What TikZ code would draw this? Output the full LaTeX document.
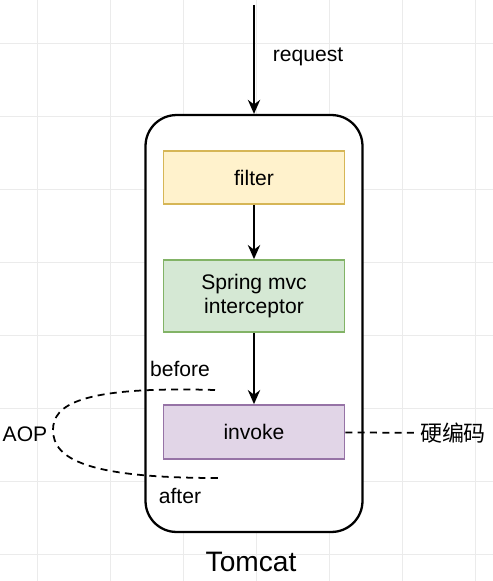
\documentclass[tikz,border=0pt]{standalone}
\usepackage{fontspec}
\setmainfont{Liberation Sans}
\newfontfamily\cjk{Noto Sans CJK SC}
\usepackage{xcolor}
\usetikzlibrary{arrows.meta}

\definecolor{filterfill}{HTML}{FFF2CC}
\definecolor{filterline}{HTML}{D6B656}
\definecolor{mvcfill}{HTML}{D5E8D4}
\definecolor{mvcline}{HTML}{82B366}
\definecolor{invokefill}{HTML}{E1D5E7}
\definecolor{invokeline}{HTML}{9673A6}

\tikzset{
    stagebox/.style={draw, line width=1pt, minimum width=3.62cm, align=center, font=\fontsize{12}{14}\selectfont},
    label/.style={font=\fontsize{12}{14}\selectfont, inner sep=1pt},
    flow/.style={-{Stealth[length=8pt, width=7pt]}, line width=1.1pt},
    aop/.style={line width=1pt, dash pattern=on 4pt off 3pt}
}

\begin{document}
\begin{tikzpicture}[x=0.02cm, y=-0.02cm]
    \useasboundingbox (0,0) rectangle (493,581);

    % background grid
    \foreach \gx in {37,110,183,256,329,402,475}
        \draw[black!8, line width=0.4pt] (\gx,0) -- (\gx,581);
    \foreach \gy in {43,116,189,262,335,408,481,554}
        \draw[black!8, line width=0.4pt] (0,\gy) -- (493,\gy);

    % container
    \node[draw, line width=1.3pt, rounded corners=0.62cm, minimum width=4.34cm, minimum height=8.34cm, fill=white] (tomcat) at (254,323.5) {};
    \node[font=\fontsize{16}{18}\selectfont] (tomcatlabel) at (251,562) {Tomcat};

    % stages
    \node[stagebox, fill=filterfill, draw=filterline, minimum height=1.06cm] (filter) at (254,177.5) {filter};
    \node[stagebox, fill=mvcfill, draw=mvcline, minimum height=1.44cm] (mvc) at (254,296) {Spring mvc\\interceptor};
    \node[stagebox, fill=invokefill, draw=invokeline, minimum height=1.08cm] (invoke) at (254,432) {invoke};

    % incoming request
    \coordinate (src) at (254,5);
    \node[label] (request) at (308,57) {request};
    \draw[flow] (src) -- (tomcat.north);

    % Edges
    \draw[flow] (filter) -- (mvc);
    \draw[flow] (mvc) -- (invoke);

    % AOP around invoke
    \coordinate (aopin) at (215,390);
    \coordinate (aopleft) at (53,430);
    \coordinate (aopout) at (218,478);
    \draw[aop] (aopin) .. controls (80,386) and (53,405) .. (aopleft)
        .. controls (53,460) and (90,478) .. (aopout);
    \node[label] (before) at (180,369) {before};
    \node[label] (after) at (180,496) {after};
    \node[label] (aoplabel) at (25,434) {AOP};

    % hard coding
    \node[label, font=\cjk\fontsize{12.5}{14}\selectfont, inner sep=2pt] (hard) at (453,433) {硬编码};
    \draw[aop] (invoke) -- (hard);
\end{tikzpicture}
\end{document}
